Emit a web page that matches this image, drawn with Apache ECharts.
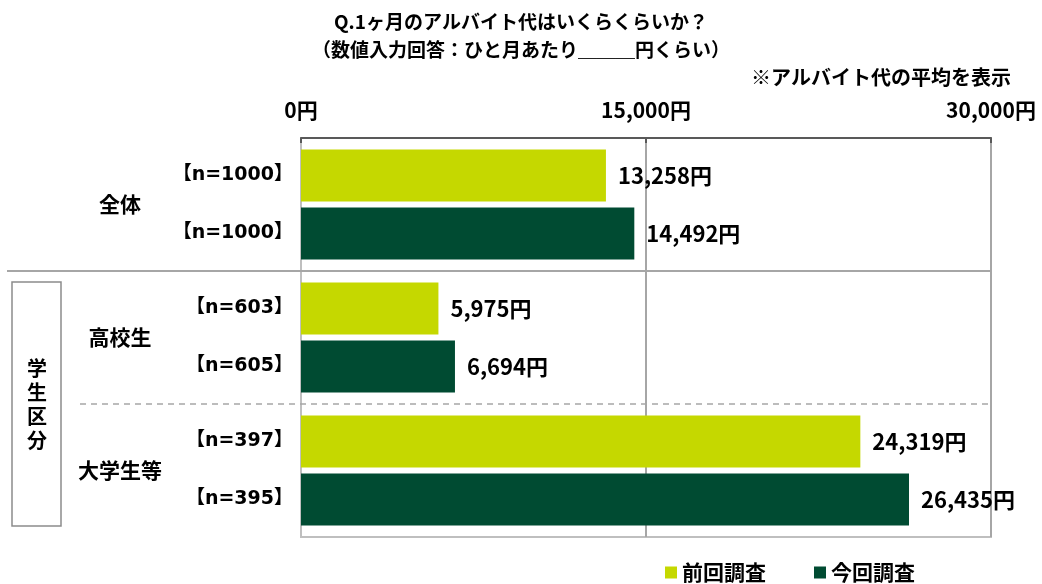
<!DOCTYPE html>
<html>
<head>
<meta charset="utf-8">
<script src="https://cdn.jsdelivr.net/npm/echarts@6/dist/echarts.min.js"></script>
<style>
  html, body { margin: 0; padding: 0; background: #fff; }
  #main { width: 1042px; height: 584px; }
</style>
</head>
<body>
<div id="main"></div>
<script>
// groups (top to bottom)
var groups = ['全体', '高校生', '大学生等'];
// sample sizes
var prevN = ['1000', '603', '397'];
var currN = ['1000', '605', '395'];
// average part-time pay (yen)
var prevValues = [13258, 5975, 24319];
var currValues = [14492, 6694, 26435];
var seriesNames = ['前回調査', '今回調査'];
var axisMax = 30000;
var axisStep = 15000;

var FONT = '"Noto Sans CJK JP", "Noto Sans", sans-serif';
var WIDE = '"DejaVu Sans", "Noto Sans CJK JP", sans-serif';
var LIME = '#c5d800';
var DARK = '#004b32';

function yen(v) {
    return v.toLocaleString('en-US') + '円';
}

var myChart = echarts.init(document.getElementById('main'));
myChart.setOption({
    animation: false,
    textStyle: {fontFamily: FONT},
    title: [{
        text: 'Q.1ヶ月のアルバイト代はいくらくらいか？\n（数値入力回答：ひと月あたり＿＿＿円くらい）',
        left: 'center',
        top: 3,
        textStyle: {fontFamily: FONT, fontSize: 19, fontWeight: 'bold', color: '#000', lineHeight: 28}
    }, {
        text: '※アルバイト代の平均を表示',
        right: 26,
        top: 62,
        textStyle: {fontFamily: FONT, fontSize: 20, fontWeight: 'bold', color: '#000'}
    }],
    legend: {
        left: 660,
        top: 557,
        icon: 'rect',
        itemWidth: 12,
        itemHeight: 12,
        itemGap: 48,
        textStyle: {fontFamily: FONT, fontSize: 21, fontWeight: 'bold', color: '#000'},
        data: seriesNames
    },
    grid: {
        left: 301,
        right: 51,
        top: 138,
        bottom: 47,
        show: true,
        borderColor: '#bfbfbf',
        borderWidth: 2
    },
    xAxis: {
        type: 'value',
        position: 'top',
        min: 0,
        max: axisMax,
        interval: axisStep,
        axisLine: {show: true, lineStyle: {color: '#595959', width: 2}},
        axisTick: {show: true, inside: true, length: 5, lineStyle: {color: '#595959', width: 2}},
        splitLine: {show: true, lineStyle: {color: '#a6a6a6', width: 2}},
        axisLabel: {
            margin: 17,
            fontFamily: FONT,
            fontSize: 21,
            fontWeight: 'bold',
            color: '#000',
            formatter: yen
        }
    },
    yAxis: [{
        type: 'category',
        data: groups,
        inverse: true,
        axisLine: {show: true, lineStyle: {color: '#bfbfbf', width: 2}},
        axisTick: {show: false},
        axisLabel: {
            margin: 8,
            formatter: function (v, i) {
                return '{n|【n=' + prevN[i] + '】}\n{n|【n=' + currN[i] + '】}';
            },
            rich: {
                n: {fontFamily: WIDE, fontSize: 19, fontWeight: 'bold', color: '#000', lineHeight: 58, align: 'right'}
            }
        }
    }, {
        type: 'category',
        data: groups,
        inverse: true,
        position: 'left',
        axisLine: {show: false},
        axisTick: {show: false},
        axisLabel: {
            margin: 181,
            align: 'center',
            fontFamily: FONT,
            fontSize: 21,
            fontWeight: 'bold',
            color: '#000'
        }
    }],
    series: [{
        name: seriesNames[0],
        type: 'bar',
        barWidth: 52,
        barGap: '12%',
        itemStyle: {color: LIME},
        label: {
            show: true,
            position: 'right',
            distance: 12,
            fontFamily: FONT,
            fontSize: 22,
            fontWeight: 'bold',
            color: '#000',
            formatter: function (p) { return yen(p.value); }
        },
        data: prevValues
    }, {
        name: seriesNames[1],
        type: 'bar',
        barWidth: 52,
        barGap: '12%',
        itemStyle: {color: DARK},
        label: {
            show: true,
            position: 'right',
            distance: 12,
            fontFamily: FONT,
            fontSize: 22,
            fontWeight: 'bold',
            color: '#000',
            formatter: function (p) { return yen(p.value); }
        },
        data: currValues
    }]
});

// separators and the 学生区分 box, placed from the category axis
var c = groups.map(function (g) {
    return myChart.convertToPixel({yAxisIndex: 0}, g);
});
var b1 = (c[0] + c[1]) / 2;
var b2 = (c[1] + c[2]) / 2;
var right = myChart.convertToPixel({xAxisIndex: 0}, axisMax);
var band = c[1] - c[0];

myChart.setOption({
    graphic: [{
        type: 'line',
        shape: {x1: 7, y1: b1, x2: right, y2: b1},
        style: {stroke: '#a6a6a6', lineWidth: 2},
        z: 10
    }, {
        type: 'line',
        shape: {x1: 80, y1: b2, x2: right, y2: b2},
        style: {stroke: '#a6a6a6', lineWidth: 1.5, lineDash: [6, 5]},
        z: 10
    }, {
        type: 'rect',
        shape: {x: 12, y: b1 + 11, width: 49, height: band * 2 - 22},
        style: {fill: 'none', stroke: '#8c8c8c', lineWidth: 1.5},
        z: 10
    }, {
        type: 'text',
        x: 37,
        y: b2,
        style: {
            text: '学\n生\n区\n分',
            fontFamily: FONT,
            fontSize: 20,
            fontWeight: 'bold',
            fill: '#000',
            lineHeight: 24,
            align: 'center',
            verticalAlign: 'middle'
        },
        z: 10
    }]
});
</script>
</body>
</html>
